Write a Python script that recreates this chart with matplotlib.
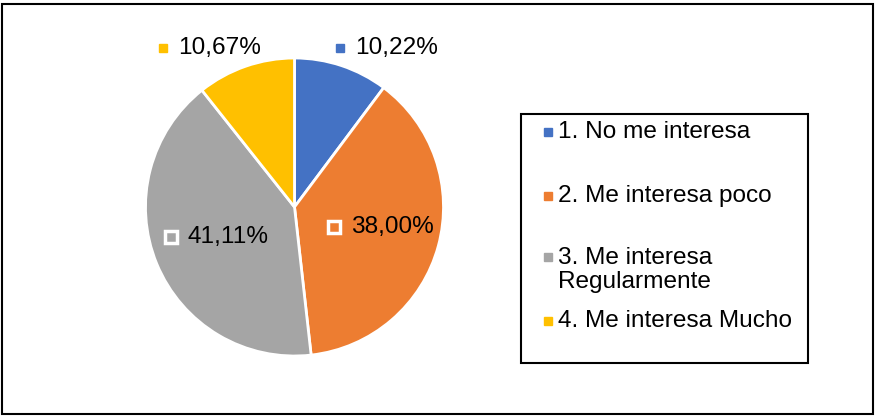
import numpy as np
import matplotlib.pyplot as plt
from matplotlib.patches import Rectangle
from matplotlib.transforms import ScaledTranslation

plt.rcParams['font.family'] = ['Liberation Sans', 'DejaVu Sans']

# data
categories = ["1. No me interesa", "2. Me interesa poco",
              "3. Me interesa\nRegularmente", "4. Me interesa Mucho"]
values = [10.22, 38.00, 41.11, 10.67]
labels = ["10,22%", "38,00%", "41,11%", "10,67%"]
colors = ["#4472C4", "#ED7D31", "#A5A5A5", "#FFC000"]
inside = [False, True, True, False]  # where Excel put each data label

W, H, DPI = 875, 417, 100
FS = 17.6
fig = plt.figure(figsize=(W / DPI, H / DPI), dpi=DPI)

def px(x, y):
    # pixel (from top-left) -> figure fraction
    return x / W, 1 - y / H

# outer chart border
fig.patches.append(Rectangle(px(1.5, 414), 871.5 / W, 410.5 / H, transform=fig.transFigure,
                             fill=False, edgecolor="black", linewidth=1.5))

# pie axes: centre (294.5, 207), radius 149 px
r = 149
ax = fig.add_axes([(294.5 - r) / W, (H - 207 - r) / H, 2 * r / W, 2 * r / H])
wedges, _ = ax.pie(values, colors=colors, startangle=90, counterclock=False,
                   wedgeprops=dict(edgecolor="white", linewidth=2))
ax.set_xlim(-1, 1)
ax.set_ylim(-1, 1)
ax.set_aspect("equal")
ax.axis("off")

def shifted(dx):
    return ax.transData + ScaledTranslation(dx / DPI, 0, fig.dpi_scale_trans)

# data labels: small square "legend key" + percentage text
for w, lab, col, ins in zip(wedges, labels, colors, inside):
    mid = np.deg2rad((w.theta1 + w.theta2) / 2)
    if ins:
        cx, cy = 0.58 * np.cos(mid), 0.58 * np.sin(mid) + 0.02
        ax.plot(cx, cy, marker="s", markersize=9, markerfacecolor=col,
                markeredgecolor="white", markeredgewidth=2.5,
                transform=shifted(-44), clip_on=False)
        text_dx = -27
    else:
        cx, cy = 1.85 * np.cos(mid) + 0.04, 1.07
        ax.plot(cx, cy, marker="s", markersize=6, color=col,
                transform=shifted(-47), clip_on=False)
        text_dx = -32
    ax.text(cx, cy, lab, fontsize=FS, ha="left", va="center",
            transform=shifted(text_dx), clip_on=False)

# legend box drawn by hand (Excel spaces its entries unevenly)
fig.patches.append(Rectangle(px(521, 363), 287 / W, 249 / H, transform=fig.transFigure,
                             fill=False, edgecolor="black", linewidth=1.5))
legend_y = [132, 196, 270, 321]
for cat, col, y in zip(categories, colors, legend_y):
    n_lines = cat.count("\n") + 1
    key_y = y - (n_lines - 1) * 13
    fig.patches.append(Rectangle(px(544, key_y + 4), 8 / W, 8 / H,
                                 transform=fig.transFigure, color=col))
    fig.text(*px(558, y), cat, fontsize=FS, ha="left", va="center",
             linespacing=1.1)

fig.savefig("out.png", dpi=DPI)
